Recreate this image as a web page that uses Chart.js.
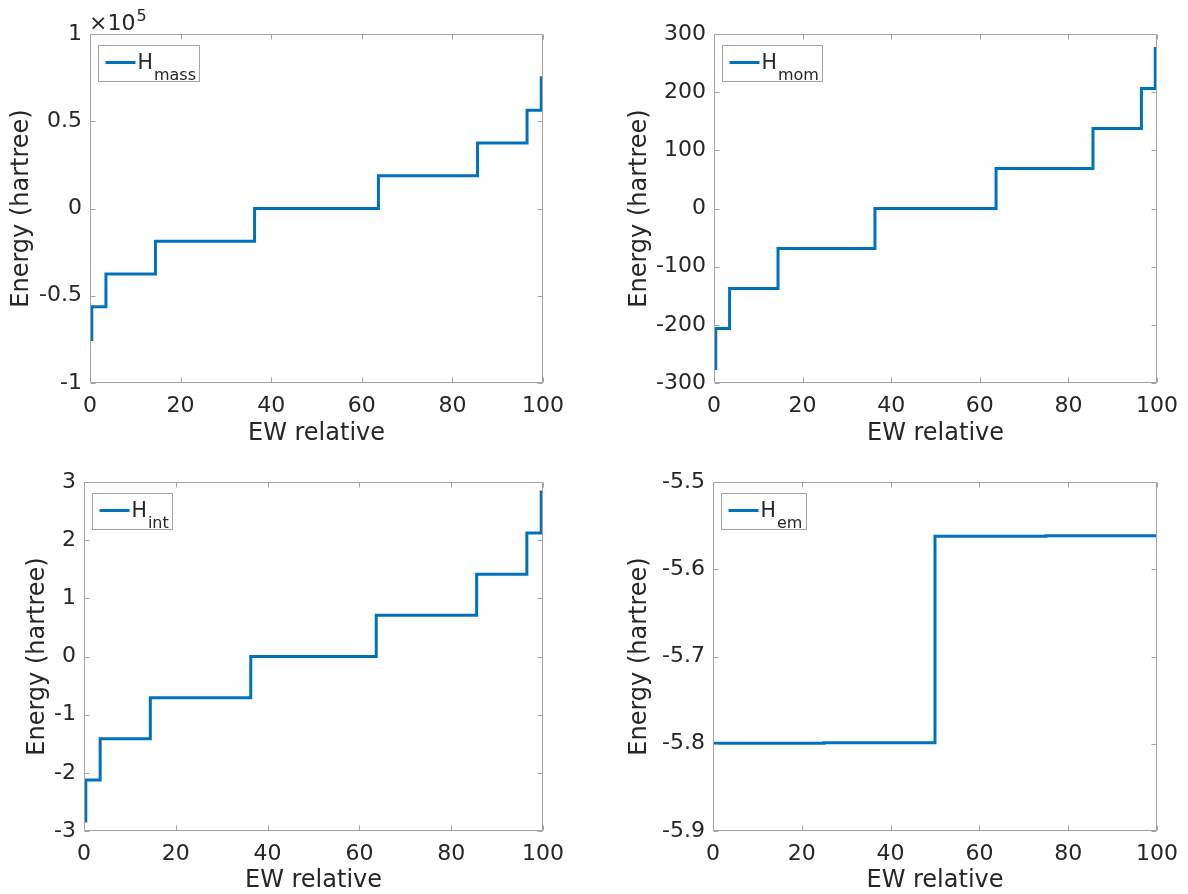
<!DOCTYPE html>
<html><head><meta charset="utf-8">
<script src="https://cdn.jsdelivr.net/npm/chart.js@4/dist/chart.umd.min.js"></script>
<style>
html,body{margin:0;padding:0;background:#fff;}
#wrap{position:relative;width:1188px;height:894px;background:#fff;overflow:hidden;}
canvas{position:absolute;left:0;top:0;}
</style></head><body><div id="wrap">
<canvas id="c0" width="1188" height="894"></canvas>
<canvas id="c1" width="1188" height="894"></canvas>
<canvas id="c2" width="1188" height="894"></canvas>
<canvas id="c3" width="1188" height="894"></canvas>
</div>
<script>
// ---- data ----
const EW = [0, 0.39, 3.52, 14.45, 36.33, 63.67, 85.55, 96.48, 99.61, 100];
const H_MASS = [-75000, -56250, -37500, -18750, 0, 18750, 37500, 56250, 75000, 75000];
const H_MOM = [-275, -206.25, -137.5, -68.75, 0, 68.75, 137.5, 206.25, 275, 275];
const H_INT = [-2.8284, -2.1213, -1.4142, -0.7071, 0, 0.7071, 1.4142, 2.1213, 2.8284, 2.8284];
const EW_EM = [0, 25, 50, 75, 100];
const H_EM = [-5.7993, -5.7988, -5.5622, -5.5617, -5.5617];

const X_TICKS = [0, 20, 40, 60, 80, 100];
const Y_TICKS_MASS = [-100000, -50000, 0, 50000, 100000];
const Y_TICKS_MOM = [-300, -200, -100, 0, 100, 200, 300];
const Y_TICKS_INT = [-3, -2, -1, 0, 1, 2, 3];
const Y_TICKS_EM = [-5.9, -5.8, -5.7, -5.6, -5.5];

const X_TITLE = 'EW relative';
const Y_TITLE = 'Energy (hartree)';
const LEGEND_SUBS = ['mass', 'mom', 'int', 'em'];

const LINE_COLOR = '#0072BD';
const TEXT_COLOR = '#262626';
const AXIS_COLOR = '#a3a3a3';
const FONT = '"DejaVu Sans", sans-serif';

const panels = [
  {id:'c0', xs:EW, ys:H_MASS, yt:Y_TICKS_MASS, sub:LEGEND_SUBS[0], area:{l:90,r:543,t:34,b:383}, ytx:22, xty:434, fmt:v=>String(+(v/1e5).toFixed(2)), exp:true},
  {id:'c1', xs:EW, ys:H_MOM, yt:Y_TICKS_MOM, sub:LEGEND_SUBS[1], area:{l:714,r:1160,t:34,b:383}, ytx:640, xty:434, fmt:v=>String(v)},
  {id:'c2', xs:EW, ys:H_INT, yt:Y_TICKS_INT, sub:LEGEND_SUBS[2], area:{l:84,r:543,t:482,b:831}, ytx:38, xty:881, fmt:v=>String(v)},
  {id:'c3', xs:EW_EM, ys:H_EM, yt:Y_TICKS_EM, sub:LEGEND_SUBS[3], area:{l:713,r:1160,t:482,b:831}, ytx:640, xty:881, fmt:v=>v.toFixed(1)}
];

const matlabPlugin = {
  id:'matlabAxes',
  afterDraw(chart, args, opts){
    const ctx = chart.ctx;
    const a = chart.chartArea;
    const xs = chart.scales.x, ys = chart.scales.y;
    ctx.save();
    ctx.strokeStyle = AXIS_COLOR;
    ctx.lineWidth = 1;
    const L = Math.round(a.left)+0.5, R = Math.round(a.right)-0.5, T = Math.round(a.top)+0.5, B = Math.round(a.bottom)-0.5;
    ctx.beginPath();
    ctx.rect(L, T, R-L, B-T);
    const tl = 5;
    xs.ticks.forEach(t=>{
      const px = Math.round(xs.getPixelForValue(t.value))+0.5;
      ctx.moveTo(px, B); ctx.lineTo(px, B-tl);
      ctx.moveTo(px, T); ctx.lineTo(px, T+tl);
    });
    ys.ticks.forEach(t=>{
      const py = Math.round(ys.getPixelForValue(t.value))+0.5;
      ctx.moveTo(L, py); ctx.lineTo(L+tl, py);
      ctx.moveTo(R, py); ctx.lineTo(R-tl, py);
    });
    ctx.stroke();

    // legend
    const sub = opts.sub;
    const bigF = '20.5px ' + FONT, smallF = '16px ' + FONT;
    ctx.font = bigF; const wH = ctx.measureText('H').width;
    ctx.font = smallF; const wS = ctx.measureText(sub).width;
    const bx = Math.round(a.left) + 8.5, by = Math.round(a.top) + 11.5;
    const bw = Math.round(7 + 30 + 2 + wH + 1 + wS + 4), bh = 36;
    ctx.fillStyle = '#fff';
    ctx.fillRect(bx, by, bw, bh);
    ctx.strokeStyle = AXIS_COLOR;
    ctx.strokeRect(bx, by, bw, bh);
    ctx.strokeStyle = LINE_COLOR; ctx.lineWidth = 3;
    ctx.beginPath(); ctx.moveTo(bx+7, by+17); ctx.lineTo(bx+37, by+17); ctx.stroke();
    ctx.fillStyle = TEXT_COLOR;
    ctx.textBaseline = 'alphabetic'; ctx.textAlign = 'left';
    ctx.font = bigF; ctx.fillText('H', bx+39, by+23);
    ctx.font = smallF; ctx.fillText(sub, bx+39+wH+1, by+34);

    if (opts.exp) {
      ctx.font = '22px ' + FONT;
      ctx.fillText('\u00d710', a.left - 1, 30);
      const w = ctx.measureText('\u00d710').width;
      ctx.font = '16px ' + FONT;
      ctx.fillText('5', a.left - 1 + w + 1, 21);
    }
    ctx.restore();
  }
};

panels.forEach(p=>{
  const lh = 24*1.2;
  const padLeft = p.ytx - lh/2;
  const bottomEdge = p.xty + lh/2;
  const padBottom = 894 - bottomEdge;
  const yW = p.area.l - padLeft;
  const xH = bottomEdge - p.area.b;
  new Chart(document.getElementById(p.id), {
    type:'line',
    data:{datasets:[{
      data: p.xs.map((x,i)=>({x:x, y:p.ys[i]})),
      borderColor: LINE_COLOR, borderWidth: 3, pointRadius: 0, stepped: true, fill:false, tension:0
    }]},
    options:{
      responsive:false, animation:false, devicePixelRatio:1,
      layout:{autoPadding:false, padding:{left:padLeft, right:1188 - p.area.r, top:p.area.t, bottom:padBottom}},
      plugins:{legend:{display:false}, tooltip:{enabled:false}, matlabAxes:{sub:p.sub, exp:!!p.exp}},
      scales:{
        x:{type:'linear', min:0, max:100,
          afterBuildTicks:s=>{ s.ticks = X_TICKS.map(v=>({value:v})); },
          afterFit:s=>{ s.height = xH; },
          grid:{display:false, drawTicks:false}, border:{display:false},
          ticks:{padding:10, color:TEXT_COLOR, font:{family:FONT, size:22}, maxRotation:0, autoSkip:false, callback:v=>String(v)},
          title:{display:true, text:X_TITLE, color:TEXT_COLOR, font:{family:FONT, size:24, lineHeight:1.2}, padding:0}
        },
        y:{type:'linear', min:p.yt[0], max:p.yt[p.yt.length-1],
          afterBuildTicks:s=>{ s.ticks = p.yt.map(v=>({value:v})); },
          afterFit:s=>{ s.width = yW; },
          grid:{display:false, drawTicks:false}, border:{display:false},
          ticks:{padding:8, color:TEXT_COLOR, font:{family:FONT, size:22}, autoSkip:false, callback:v=>p.fmt(v)},
          title:{display:true, text:Y_TITLE, color:TEXT_COLOR, font:{family:FONT, size:24, lineHeight:1.2}, padding:0}
        }
      }
    },
    plugins:[matlabPlugin]
  });
});
</script></body></html>
